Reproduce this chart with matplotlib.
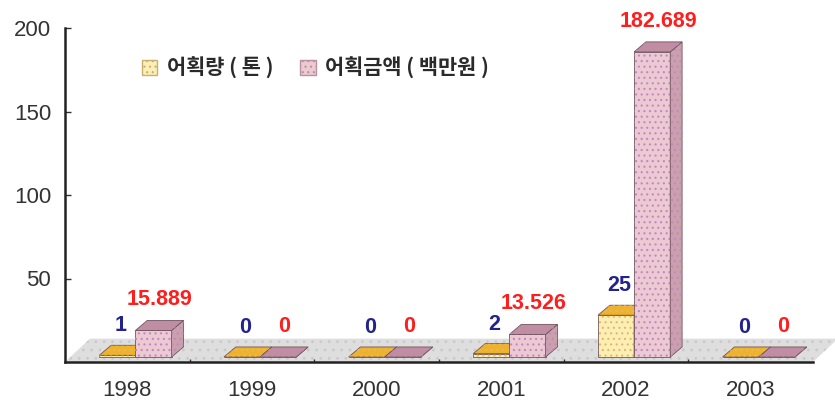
import matplotlib
matplotlib.use("Agg")
import matplotlib.pyplot as plt
from matplotlib.patches import Polygon, Patch

years = ["1998", "1999", "2000", "2001", "2002", "2003"]
catch_ton = [1, 0, 0, 2, 25, 0]               # 어획량 (톤)
catch_value = [15.889, 0, 0, 13.526, 182.689, 0]  # 어획금액 (백만원)
legend_labels = ["어획량 ( 톤 )", "어획금액 ( 백만원 )"]

plt.rcParams["font.family"] = ["Liberation Sans", "DejaVu Sans"]
plt.rcParams["hatch.linewidth"] = 0.8

# 3D look: depth offset of bars and floor in data units
dx, dy = 0.095, 6.0
floor_dx, floor_dy = 0.2, 14.0
base = 3.0
bar_w = 0.29

yellow = dict(front="#fcefb6", top="#efb22c", side="#d9a024", dots="#e8b860")
pink = dict(front="#eccad2", top="#c08f9d", side="#caa0ab", dots="#c486c6")

fig = plt.figure(figsize=(8.35, 4.05), dpi=100)
ax = fig.add_axes([65 / 835, 43 / 405, 748 / 835, 334 / 405])
ax.set_xlim(0, 6)
ax.set_ylim(0, 200)


def face(pts, fc, dots=None):
    ax.add_patch(Polygon(pts, closed=True, facecolor=fc, edgecolor="#6e555b",
                         lw=0.6, clip_on=False, zorder=3))
    if dots:
        ax.add_patch(Polygon(pts, closed=True, facecolor="none", edgecolor=dots,
                             hatch="...", lw=0, clip_on=False, zorder=3))


def bar3d(left, h, c):
    top_y = base + h
    face([(left, base), (left + bar_w, base), (left + bar_w, top_y), (left, top_y)],
         c["front"], c["dots"])
    face([(left + bar_w, base), (left + bar_w + dx, base + dy),
          (left + bar_w + dx, top_y + dy), (left + bar_w, top_y)], c["side"], c["dots"])
    face([(left, top_y), (left + dx, top_y + dy), (left + bar_w + dx, top_y + dy),
          (left + bar_w, top_y)], c["top"], c["dots"])


# gray floor
ax.add_patch(Polygon([(0, 0), (6, 0), (6 + floor_dx, floor_dy), (floor_dx, floor_dy)],
                     closed=True, facecolor="#dedede", edgecolor="#cacaca",
                     hatch="..", lw=0, clip_on=False, zorder=1))

for i, (t, v) in enumerate(zip(catch_ton, catch_value)):
    c = i + 0.5
    yl = c - 0.225
    pl = yl + bar_w
    bar3d(yl, t, yellow)
    bar3d(pl, v, pink)
    ax.annotate(f"{t:g}", (yl + bar_w / 2 + dx / 2, base + t + dy), xytext=(-2, 14),
                textcoords="offset points", ha="center", va="center",
                color="#23238f", fontsize=15.5, fontweight="bold", zorder=5)
    ax.annotate(f"{v:g}", (pl + bar_w / 2 + dx / 2, base + v + dy), xytext=(0, 15),
                textcoords="offset points", ha="center", va="center",
                color="#ff1e1e", fontsize=15.5, fontweight="bold", zorder=5)

for s in ["top", "right"]:
    ax.spines[s].set_visible(False)
for s in ["left", "bottom"]:
    ax.spines[s].set_color("#222222")
    ax.spines[s].set_linewidth(1.8)
    ax.spines[s].set_zorder(4)

ax.set_yticks([50, 100, 150, 200])
ax.tick_params(axis="y", direction="in", length=4, width=1, colors="#333333",
               labelsize=16, pad=10)
ax.set_xticks([i + 0.5 for i in range(len(years))])
ax.set_xticklabels(years)
ax.set_xticks(range(1, 6), minor=True)
ax.tick_params(axis="x", which="major", length=0, labelsize=16, pad=13,
               colors="#333333")
ax.tick_params(axis="x", which="minor", direction="in", length=2, width=1,
               color="#333333")

handles = [Patch(facecolor=yellow["front"], edgecolor="#c8b070", hatch="..."),
           Patch(facecolor=pink["front"], edgecolor="#b890a0", hatch="...")]
fig.legend(handles, legend_labels, loc="upper left", bbox_to_anchor=(123 / 835, 1 - 38 / 405),
           ncol=2, frameon=False, handlelength=0.75, handleheight=0.75,
           handletextpad=0.45, columnspacing=1.3,
           prop=dict(family=["Noto Sans CJK KR", "DejaVu Sans"], size=15, weight="bold"),
           labelcolor="#2a2a2a")

fig.savefig("out.png", dpi=100)
